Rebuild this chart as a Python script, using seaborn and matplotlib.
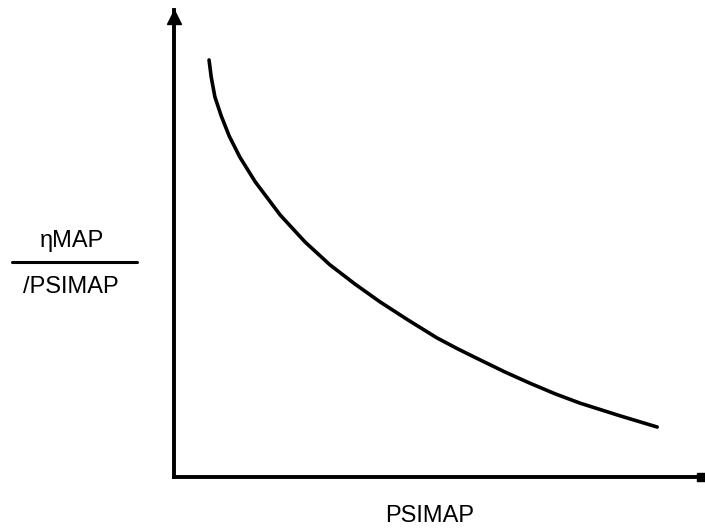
import numpy as np
import pandas as pd
import seaborn as sns
import matplotlib.pyplot as plt
from matplotlib.lines import Line2D

# values (arbitrary units, axes run 0..10)
psimap = [0.66, 0.70, 0.77, 0.89, 1.04, 1.24, 1.53, 2.00, 2.47, 2.94, 3.41,
          3.88, 4.41, 4.95, 5.35, 5.76, 6.23, 6.70, 7.18, 7.65, 8.40, 9.10]
ratio = [8.93, 8.57, 8.14, 7.73, 7.30, 6.85, 6.32, 5.61, 5.03, 4.54, 4.13,
         3.75, 3.36, 2.98, 2.74, 2.51, 2.25, 2.01, 1.78, 1.58, 1.31, 1.07]

x_label = "PSIMAP"
y_top = "\u03b7MAP"
y_bottom = "/PSIMAP"

df = pd.DataFrame({"psimap": psimap, "ratio": ratio})

sns.set_theme(style="white")
plt.rcParams['font.family'] = ['Liberation Sans', 'DejaVu Sans']
plt.rcParams['text.color'] = 'black'

W, H = 705, 531
fig = plt.figure(figsize=(W / 100, H / 100), dpi=100)
ax = fig.add_axes([174 / W, (H - 477) / H, (W - 174) / W, (477 - 10) / H])

sns.lineplot(data=df, x="psimap", y="ratio", color="black", linewidth=2.6,
             solid_capstyle="round", solid_joinstyle="round", ax=ax)

ax.set_xlim(0, 10)
ax.set_ylim(0, 10)
ax.set_xticks([])
ax.set_yticks([])
ax.set_xlabel("")
ax.set_ylabel("")
for side in ["top", "right"]:
    ax.spines[side].set_visible(False)
for side in ["left", "bottom"]:
    ax.spines[side].set_linewidth(2.8)
    ax.spines[side].set_color("black")

# arrow head on y axis, small block at end of x axis
ax.plot([0], [0.985], marker="^", markersize=10, color="black", clip_on=False,
        transform=ax.transAxes)
ax.plot([0.993], [0], marker="s", markersize=6, color="black", clip_on=False,
        transform=ax.transAxes)

def px(x, y):
    return x / W, 1 - y / H

fig.text(*px(72, 241), y_top, ha="center", va="center", fontsize=17, color="black")
fig.text(*px(71, 287), y_bottom, ha="center", va="center", fontsize=17, color="black")
fig.add_artist(Line2D([12 / W, 137 / W], [1 - 262 / H, 1 - 262 / H],
                      color="black", linewidth=2.2, transform=fig.transFigure))
fig.text(*px(430, 516), x_label, ha="center", va="center", fontsize=17, color="black")

fig.savefig("out.png", dpi=100)
